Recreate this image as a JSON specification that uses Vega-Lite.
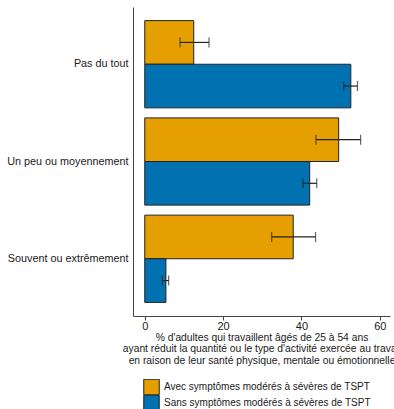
{
  "$schema": "https://vega.github.io/schema/vega-lite/v6.json",
  "autosize": {"type": "none"},
  "width": 257,
  "height": 309,
  "padding": {"left": 133, "top": 7, "right": 4, "bottom": 93},
  "background": "white",
  "config": {
    "font": "Liberation Sans",
    "view": {"stroke": null},
    "axis": {"grid": false, "domainColor": "#444", "tickColor": "#444", "labelColor": "#1a1a1a", "titleColor": "#1a1a1a"}
  },
  "data": {"values": [
    {"cat": "Pas du tout", "grp": "Avec symptômes modérés à sévères de TSPT", "v": 12.5, "lo": 9.0, "hi": 16.4},
    {"cat": "Pas du tout", "grp": "Sans symptômes modérés à sévères de TSPT", "v": 52.6, "lo": 50.8, "hi": 54.3},
    {"cat": "Un peu ou moyennement", "grp": "Avec symptômes modérés à sévères de TSPT", "v": 49.5, "lo": 43.7, "hi": 55.1},
    {"cat": "Un peu ou moyennement", "grp": "Sans symptômes modérés à sévères de TSPT", "v": 42.1, "lo": 40.4, "hi": 43.9},
    {"cat": "Souvent ou extrêmement", "grp": "Avec symptômes modérés à sévères de TSPT", "v": 37.9, "lo": 32.4, "hi": 43.6},
    {"cat": "Souvent ou extrêmement", "grp": "Sans symptômes modérés à sévères de TSPT", "v": 5.4, "lo": 4.5, "hi": 6.1}
  ]},
  "encoding": {
    "y": {"field": "cat", "type": "nominal", "sort": ["Pas du tout", "Un peu ou moyennement", "Souvent ou extrêmement"],
      "scale": {"paddingInner": 0.103, "paddingOuter": 0.14},
      "axis": {"title": null, "ticks": false, "labelFontSize": 10.8, "labelPadding": 5, "labelLimit": 200}},
    "yOffset": {"field": "grp", "type": "nominal", "sort": ["Avec symptômes modérés à sévères de TSPT", "Sans symptômes modérés à sévères de TSPT"], "scale": {"paddingInner": 0, "paddingOuter": 0}}
  },
  "layer": [
    {
      "mark": {"type": "bar", "stroke": "#222", "strokeWidth": 1},
      "encoding": {
        "x": {"field": "v", "type": "quantitative", "scale": {"domain": [-3, 62.6], "nice": false, "zero": false},
          "axis": {"values": [0, 20, 40, 60], "labelFontSize": 11, "tickSize": 4, "labelPadding": 0, "titleFontSize": 10.3, "titleFontWeight": "normal", "titlePadding": 1, "titleLineHeight": 11.5, "titleLimit": 500,
            "title": ["% d'adultes qui travaillent âgés de 25 à 54 ans", "ayant réduit la quantité ou le type d'activité exercée au travail", "en raison de leur santé physique, mentale ou émotionnelle"]}},
        "fill": {"field": "grp", "type": "nominal",
          "scale": {"domain": ["Avec symptômes modérés à sévères de TSPT", "Sans symptômes modérés à sévères de TSPT"], "range": ["#E69F00", "#0072B2"]},
          "legend": {"title": null, "orient": "none", "legendX": 10, "legendY": 372, "padding": 0, "direction": "vertical", "symbolType": "square", "symbolSize": 240, "symbolStrokeColor": "#222", "symbolStrokeWidth": 1, "labelFontSize": 10, "labelOffset": 4, "rowPadding": 0, "clipHeight": 16, "labelLimit": 300, "labelColor": "#1a1a1a"}}
      }
    },
    {
      "mark": {"type": "rule", "color": "#222", "strokeWidth": 1.2},
      "encoding": {"x": {"field": "lo", "type": "quantitative"}, "x2": {"field": "hi"}}
    },
    {
      "mark": {"type": "tick", "color": "#222", "thickness": 1.2, "size": 10},
      "encoding": {"x": {"field": "lo", "type": "quantitative"}}
    },
    {
      "mark": {"type": "tick", "color": "#222", "thickness": 1.2, "size": 10},
      "encoding": {"x": {"field": "hi", "type": "quantitative"}}
    }
  ]
}
